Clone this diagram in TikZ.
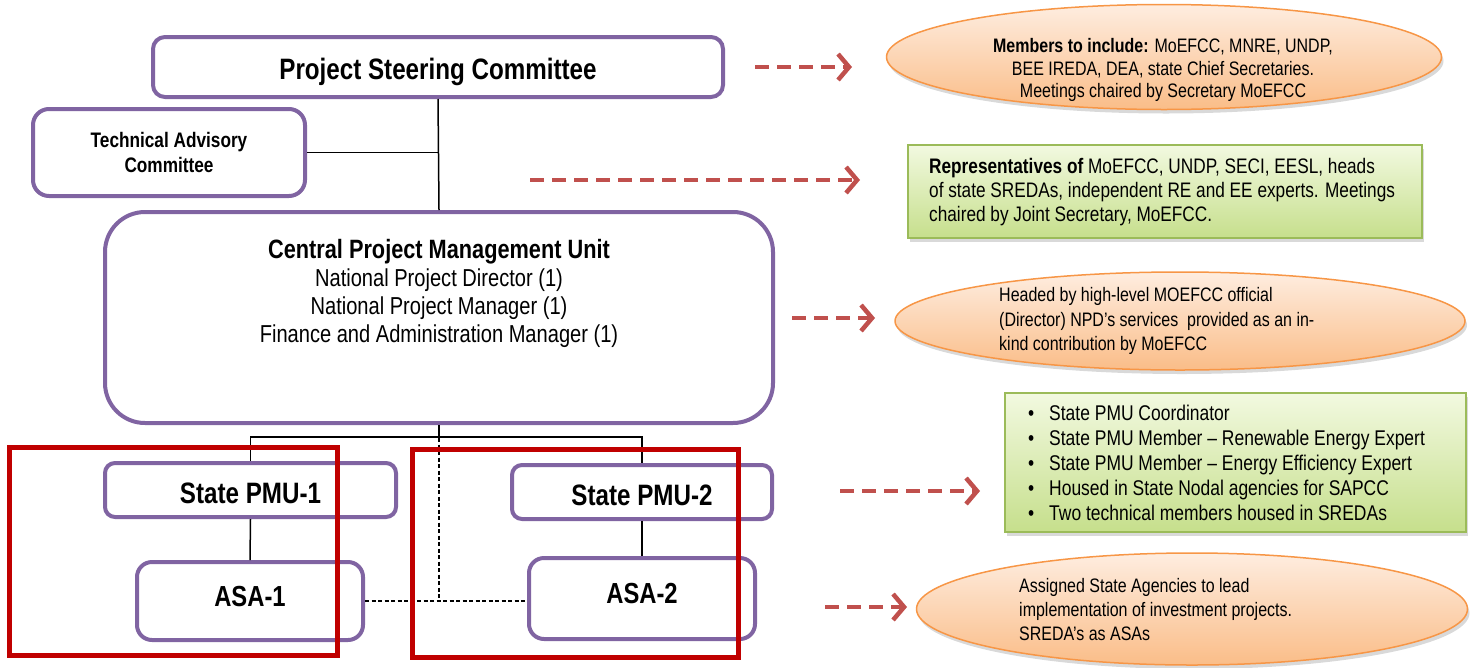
\documentclass[tikz,border=0pt]{standalone}
\usepackage{fontspec}
\setmainfont{Liberation Sans}[FakeStretch=0.82]
\usetikzlibrary{arrows.meta,shapes.geometric,shadows}

\definecolor{boxpurple}{HTML}{8064A2}
\definecolor{framered}{HTML}{C00000}
\definecolor{arrowred}{HTML}{C0504D}
\definecolor{ellborder}{HTML}{F79646}
\definecolor{elltop}{HTML}{FEEDE0}
\definecolor{ellbottom}{HTML}{FABD88}
\definecolor{grnborder}{HTML}{9BBB59}
\definecolor{grntop}{HTML}{F2F9E0}
\definecolor{grnbottom}{HTML}{C6DF8C}

\tikzset{
  orgbox/.style={draw=boxpurple, line width=4pt, fill=white, rounded corners=12pt, inner sep=0pt},
  noteell/.style={ellipse, draw=ellborder, line width=1.5pt, top color=elltop, bottom color=ellbottom,
    drop shadow={shadow xshift=2pt, shadow yshift=-4pt, opacity=0.3}},
  notebox/.style={rectangle, draw=grnborder, line width=1.5pt, top color=grntop, bottom color=grnbottom,
    drop shadow={shadow xshift=2pt, shadow yshift=-4pt, opacity=0.3}},
  notetxt/.style={anchor=west, align=left, inner sep=0pt},
  conn/.style={draw=black, line width=1.5pt},
  dconn/.style={draw=black, line width=1.3pt, dash pattern=on 4pt off 2.5pt},
  rarrow/.style={draw=arrowred, line width=4.5pt, dash pattern=on 14pt off 8pt,
    -{Straight Barb[length=11pt, width=26pt]}},
  redframe/.style={draw=framered, line width=5pt}
}

\begin{document}
\begin{tikzpicture}[x=1pt, y=-1pt]
    \useasboundingbox (0,0) rectangle (1471,667);

    % organisation boxes
    \node[orgbox, minimum width=570, minimum height=60, text height=26pt, text depth=2pt, font=\bfseries\fontsize{29.5}{32}\selectfont] (psc) at (438,67) {Project Steering Committee};
    \node[orgbox, rounded corners=16pt, minimum width=272, minimum height=87, align=center, font=\bfseries\fontsize{21}{25}\selectfont] (tac) at (169,152.5) {Technical Advisory\\Committee};
    \node[orgbox, rounded corners=40pt, minimum width=668, minimum height=211] (cpmu) at (439,317.5) {};
    \node[align=center, font=\fontsize{24.5}{28}\selectfont] (cpmutxt) at (439,293) {{\bfseries\fontsize{26.5}{28}\selectfont Central Project Management Unit}\\National Project Director (1)\\National Project Manager (1)\\Finance and Administration Manager (1)};
    \node[orgbox, rounded corners=10pt, minimum width=291, minimum height=54, text height=28pt, text depth=2pt, font=\bfseries\fontsize{29.5}{32}\selectfont] (spmu1) at (250.5,490) {State PMU-1};
    \node[orgbox, rounded corners=10pt, minimum width=260, minimum height=54, text height=28pt, text depth=2pt, font=\bfseries\fontsize{29.5}{32}\selectfont] (spmu2) at (642,492) {State PMU-2};
    \node[orgbox, rounded corners=15pt, minimum width=226, minimum height=78, text height=12pt, text depth=2pt, font=\bfseries\fontsize{29}{32}\selectfont] (asa1) at (250,601) {ASA-1};
    \node[orgbox, rounded corners=15pt, minimum width=226, minimum height=81, text height=12pt, text depth=2pt, font=\bfseries\fontsize{29}{32}\selectfont] (asa2) at (642,598.5) {ASA-2};

    % connectors
    \draw[conn] (psc.south) -- (cpmu.north);
    \draw[conn] (tac.east) -- (tac.east -| psc.south);
    \draw[conn] (cpmu.south) -- ++(0,12) coordinate (bus);
    \draw[conn] (spmu1.north) |- (bus) -| (spmu2.north);
    \draw[conn] (spmu1.south) -- (asa1.north);
    \draw[conn] (spmu2.south) -- (asa2.north);
    \draw[dconn] (cpmu.south) -- (cpmu.south |- asa1.east);
    \draw[dconn] (asa1.east) -- (asa1.east -| asa2.west);

    % notes
    \node[noteell, minimum width=555, minimum height=105] (e1) at (1164,57) {};
    \node[align=center, inner sep=0pt, font=\fontsize{19.5}{22.5}\selectfont] (e1txt) at (1163,70) {\textbf{Members to include:} MoEFCC, MNRE, UNDP,\\BEE IREDA, DEA, state Chief Secretaries.\\Meetings chaired by Secretary MoEFCC};
    \node[notebox, minimum width=514, minimum height=93] (g1) at (1165,191.5) {};
    \node[notetxt, font=\fontsize{21}{24}\selectfont] (g1txt) at (929,192) {\textbf{Representatives of} MoEFCC, UNDP, SECI, EESL, heads\\of state SREDAs, independent RE and EE experts. Meetings\\chaired by Joint Secretary, MoEFCC.};
    \node[noteell, minimum width=570, minimum height=98] (e2) at (1180,321) {};
    \node[notetxt, font=\fontsize{19.5}{24.5}\selectfont] (e2txt) at (999,321) {Headed by high-level MOEFCC official\\(Director) NPD's services\ \ provided as an in-\\kind contribution by MoEFCC};
    \node[notebox, minimum width=461, minimum height=139] (g2) at (1235.5,462.5) {};
    \node[notetxt, font=\fontsize{21.3}{25}\selectfont] (g2txt) at (1028,463) {%
      \makebox[21pt][l]{\textbullet}State PMU Coordinator\\
      \makebox[21pt][l]{\textbullet}State PMU Member -- Renewable Energy Expert\\
      \makebox[21pt][l]{\textbullet}State PMU Member -- Energy Efficiency Expert\\
      \makebox[21pt][l]{\textbullet}Housed in State Nodal agencies for SAPCC\\
      \makebox[21pt][l]{\textbullet}Two technical members housed in SREDAs};
    \node[noteell, minimum width=551, minimum height=112] (e3) at (1192,609) {};
    \node[notetxt, font=\fontsize{19.5}{24}\selectfont] (e3txt) at (1019,610) {Assigned State Agencies to lead\\implementation of investment projects.\\SREDA's as ASAs};

    % red dashed arrows
    \coordinate (a1s) at (755,67);  \coordinate (a1e) at (852,67);
    \coordinate (a2s) at (530,180); \coordinate (a2e) at (860,180);
    \coordinate (a3s) at (792,318); \coordinate (a3e) at (875,318);
    \coordinate (a4s) at (840,491); \coordinate (a4e) at (980,491);
    \coordinate (a5s) at (825,607); \coordinate (a5e) at (907,607);
    \foreach \i in {1,...,5}
      \draw[rarrow] (a\i s) -- (a\i e);

    % red state frames
    \draw[redframe] (9,447) rectangle (337,655);
    \draw[redframe] (412,449) rectangle (738,657);
\end{tikzpicture}
\end{document}
